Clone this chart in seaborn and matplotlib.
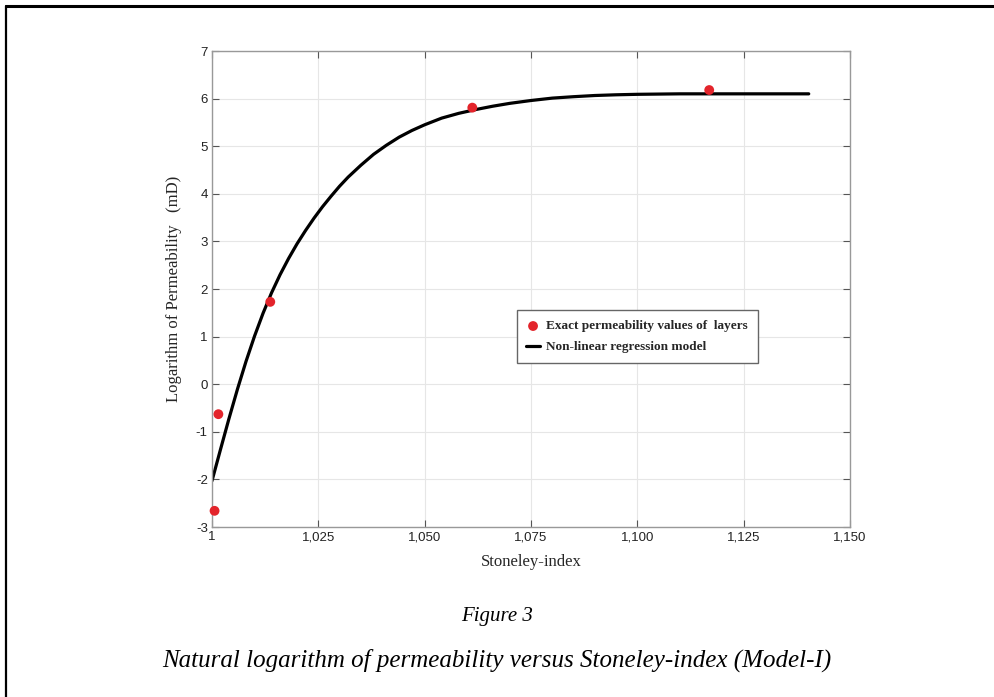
import numpy as np
import pandas as pd
import matplotlib
matplotlib.use('Agg')
import matplotlib.pyplot as plt
from matplotlib.lines import Line2D
from matplotlib.ticker import FuncFormatter
import seaborn as sns

stoneley_pts = [1.0006, 1.0015, 1.0137, 1.0612, 1.1169]
logperm_pts = [-2.66, -0.63, 1.73, 5.81, 6.18]

# regression curve
curve_x = [1.000, 1.002, 1.004, 1.006, 1.008, 1.010, 1.012, 1.014, 1.016, 1.018,
           1.020, 1.022, 1.024, 1.026, 1.028, 1.030, 1.032, 1.035, 1.038, 1.041,
           1.044, 1.047, 1.050, 1.054, 1.058, 1.062, 1.066, 1.070, 1.075, 1.080,
           1.085, 1.090, 1.095, 1.100, 1.110, 1.125, 1.1403]
curve_y = [-2.03, -1.37, -0.72, -0.10, 0.48, 1.01, 1.49, 1.92, 2.30, 2.64,
           2.95, 3.23, 3.49, 3.73, 3.95, 4.16, 4.35, 4.60, 4.83, 5.02,
           5.19, 5.33, 5.45, 5.59, 5.69, 5.77, 5.84, 5.90, 5.96, 6.01,
           6.04, 6.065, 6.08, 6.09, 6.10, 6.10, 6.10]

x_ticks = [1.0, 1.025, 1.05, 1.075, 1.1, 1.125, 1.15]
y_ticks = list(range(-3, 8))

df_pts = pd.DataFrame({'x': stoneley_pts, 'y': logperm_pts})
df_curve = pd.DataFrame({'x': curve_x, 'y': curve_y})

sns.set_style('whitegrid')
plt.rcParams['font.family'] = ['Liberation Sans', 'DejaVu Sans']

fig = plt.figure(figsize=(9.94, 6.97), dpi=100)
ax = fig.add_axes([212/994, 1-527/697, (850-212)/994, (527-51)/697])

sns.lineplot(data=df_curve, x='x', y='y', color='black', linewidth=2.3, ax=ax,
             label='Non-linear regression model', sort=False, zorder=2)
sns.scatterplot(data=df_pts, x='x', y='y', color='#e3242b', s=50, edgecolor='none', ax=ax,
                label='Exact permeability values of  layers', zorder=3, clip_on=False)

ax.set_xlim(1.0, 1.15)
ax.set_ylim(-3, 7)
ax.set_xticks(x_ticks)
ax.set_yticks(y_ticks)
ax.xaxis.set_major_formatter(FuncFormatter(
    lambda v, p: '1' if abs(v - 1) < 1e-9 else f'{v:.3f}'.replace('.', ',')))
ax.yaxis.set_major_formatter(FuncFormatter(lambda v, p: f'{v:g}'))
ax.tick_params(direction='in', length=5, width=0.8, color='#555555', labelsize=9.5,
               labelcolor='#222222', top=True, right=True, bottom=True, left=True, pad=3)
ax.grid(True, color='#e6e6e6', linewidth=0.8)
for sp in ax.spines.values():
    sp.set_color('#999999')
    sp.set_linewidth(1.0)

ax.set_xlabel('Stoneley-index', family='Liberation Serif', fontsize=12, labelpad=8)
ax.set_ylabel('Logarithm of Permeability   (mD)', family='Liberation Serif', fontsize=12, labelpad=10)

# legend: dots first, then line
handles, labels = ax.get_legend_handles_labels()
order = [1, 0]
leg = ax.legend([handles[i] for i in order], [labels[i] for i in order],
                loc='upper left', bbox_to_anchor=(0.467, 0.469), frameon=True, fancybox=False,
                prop={'family': 'Liberation Serif', 'weight': 'bold', 'size': 9.5},
                handlelength=1.0, handletextpad=0.5, borderpad=0.75, labelspacing=0.65)
leg.get_frame().set_edgecolor('#666666')
leg.get_frame().set_linewidth(1.0)
leg.get_frame().set_alpha(1)

fig.text(0.5, 1-617/697, 'Figure 3', ha='center', va='center', family='Liberation Serif',
         style='italic', fontsize=15, color='black')
fig.text(0.5, 1-660/697, 'Natural logarithm of permeability versus Stoneley-index (Model-I)',
         ha='center', va='center', family='Liberation Serif', style='italic', fontsize=18,
         color='black')

# page border (top and left edges)
fig.add_artist(Line2D([6/994, 1], [1-6/697, 1-6/697], color='black', linewidth=2.2,
                      transform=fig.transFigure))
fig.add_artist(Line2D([6/994, 6/994], [0, 1-6/697], color='black', linewidth=1.6,
                      transform=fig.transFigure))

fig.savefig('out.png', dpi=100)
